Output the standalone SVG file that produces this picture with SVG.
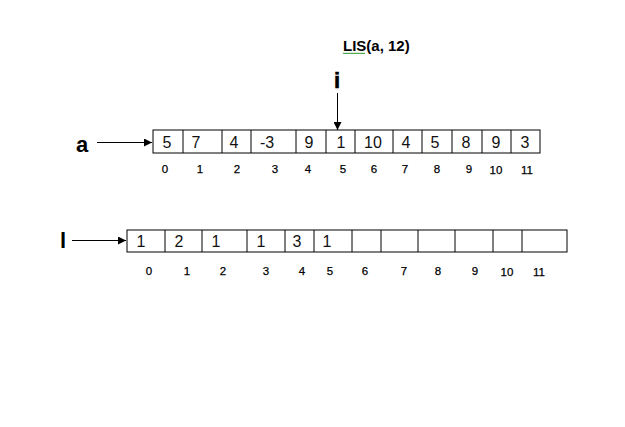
<svg xmlns="http://www.w3.org/2000/svg" width="625" height="427" viewBox="0 0 625 427">
<defs>
<style>
.cell{fill:#fff;stroke:#000;stroke-width:1}
.v{font-family:"Liberation Sans",Arial,sans-serif;font-size:16px;fill:#111;text-anchor:middle}
.ix{font-family:"Liberation Sans",Arial,sans-serif;font-size:11.5px;fill:#000;text-anchor:middle;stroke:#000;stroke-width:0.25}
.lbl{font-family:"Liberation Sans",Arial,sans-serif;font-weight:bold;fill:#000}
.con{stroke:#000;stroke-width:1;fill:none}
</style>
<marker id="ah" viewBox="0 0 10 10" refX="10" refY="5" markerWidth="8" markerHeight="8" markerUnits="userSpaceOnUse" orient="auto">
<path d="M0,0 L10,5 L0,10 z" fill="#000"/>
</marker>
</defs>
<rect width="625" height="427" fill="#fff"/>
<g id="title">
<text class="lbl" x="343" y="51" font-size="15">LIS(a, 12)</text>
<path d="M343,54 l1,-1.2 l1,1.2 l1,-1.2 l1,1.2 l1,-1.2 l1,1.2 l1,-1.2 l1,1.2 l1,-1.2 l1,1.2 l1,-1.2 l1,1.2 l1,-1.2 l1,1.2 l1,-1.2 l1,1.2 l1,-1.2 l1,1.2 l1,-1.2 l1,1.2 l1,-1.2 l1,1.2" fill="none" stroke="#2e9a2e" stroke-width="0.9"/>
</g>
<g id="label-i"><text class="lbl" x="337" y="88" font-size="22" text-anchor="middle" font-weight="normal" stroke="#000" stroke-width="0.6">i</text></g>
<g id="label-a"><text class="lbl" x="82" y="152" font-size="22" text-anchor="middle">a</text></g>
<g id="label-l"><text class="lbl" x="63" y="248" font-size="22" text-anchor="middle">l</text></g>
<g id="array-a">
<rect class="cell" x="153" y="130" width="387" height="23"/>
<path class="con" d="M183,130V153M222,130V153M251,130V153M296,130V153M326,130V153M355,130V153M393,130V153M422,130V153M452,130V153M482,130V153M511,130V153"/>
<text class="v" x="167" y="148">5</text>
<text class="v" x="196" y="148">7</text>
<text class="v" x="234" y="148">4</text>
<text class="v" x="267" y="148">-3</text>
<text class="v" x="309" y="148">9</text>
<text class="v" x="341" y="148">1</text>
<text class="v" x="373" y="148">10</text>
<text class="v" x="406" y="148">4</text>
<text class="v" x="435" y="148">5</text>
<text class="v" x="466" y="148">8</text>
<text class="v" x="496" y="148">9</text>
<text class="v" x="525" y="148">3</text>
<text class="ix" x="165" y="173">0</text>
<text class="ix" x="200" y="173">1</text>
<text class="ix" x="237" y="173">2</text>
<text class="ix" x="275" y="173">3</text>
<text class="ix" x="308" y="173">4</text>
<text class="ix" x="343" y="173">5</text>
<text class="ix" x="374" y="173">6</text>
<text class="ix" x="405" y="173">7</text>
<text class="ix" x="437" y="173">8</text>
<text class="ix" x="469" y="173">9</text>
<text class="ix" x="496" y="174">10</text>
<text class="ix" x="527" y="174">11</text>
</g>
<g id="array-l">
<rect class="cell" x="127" y="230" width="440" height="22"/>
<path class="con" d="M165,230V252M202,230V252M247,230V252M285,230V252M314,230V252M352,230V252M381,230V252M418,230V252M455,230V252M493,230V252M522,230V252"/>
<text class="v" x="141" y="247">1</text>
<text class="v" x="179" y="247">2</text>
<text class="v" x="216" y="247">1</text>
<text class="v" x="261" y="247">1</text>
<text class="v" x="297" y="247">3</text>
<text class="v" x="327" y="247">1</text>
<text class="ix" x="149" y="275">0</text>
<text class="ix" x="187" y="275">1</text>
<text class="ix" x="223" y="275">2</text>
<text class="ix" x="266" y="275">3</text>
<text class="ix" x="302" y="275">4</text>
<text class="ix" x="330" y="275">5</text>
<text class="ix" x="365" y="275">6</text>
<text class="ix" x="404" y="275">7</text>
<text class="ix" x="438" y="275">8</text>
<text class="ix" x="475" y="275">9</text>
<text class="ix" x="507" y="276">10</text>
<text class="ix" x="539" y="276">11</text>
</g>
<g id="connectors">
<line class="con" x1="97" y1="142.5" x2="152" y2="142.5" marker-end="url(#ah)"/>
<line class="con" x1="72" y1="240.5" x2="126" y2="240.5" marker-end="url(#ah)"/>
<line class="con" x1="337.5" y1="93" x2="337.5" y2="130" marker-end="url(#ah)"/>
</g>
</svg>
